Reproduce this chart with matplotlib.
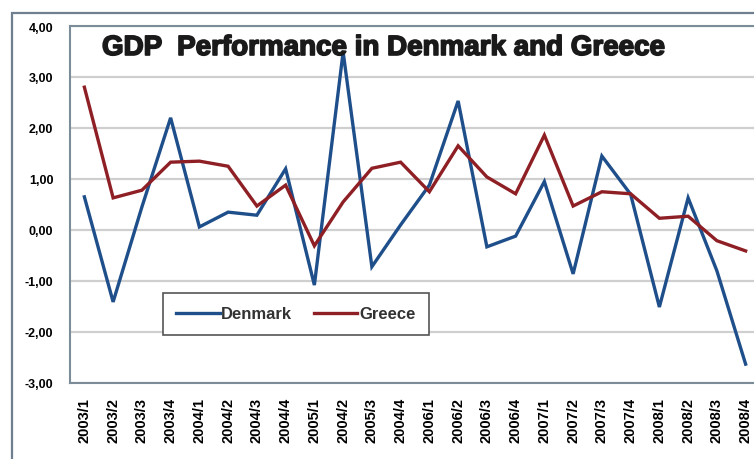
import matplotlib.pyplot as plt
import matplotlib.patheffects as pe
from matplotlib.patches import Rectangle
from matplotlib.ticker import FuncFormatter

# quarterly GDP change, %
quarters = ["2003/1", "2003/2", "2003/3", "2003/4", "2004/1", "2004/2", "2004/3", "2004/4",
            "2005/1", "2004/2", "2005/3", "2004/4", "2006/1", "2006/2", "2006/3", "2006/4",
            "2007/1", "2007/2", "2007/3", "2007/4", "2008/1", "2008/2", "2008/3", "2008/4"]
denmark = [0.65, -1.41, 0.45, 2.20, 0.06, 0.35, 0.29, 1.20,
           -1.08, 3.49, -0.72, 0.10, 0.88, 2.53, -0.33, -0.12,
           0.95, -0.86, 1.45, 0.70, -1.51, 0.63, -0.80, -2.63]
greece = [2.80, 0.63, 0.78, 1.33, 1.35, 1.25, 0.47, 0.88,
          -0.31, 0.55, 1.21, 1.33, 0.75, 1.65, 1.04, 0.71,
          1.86, 0.47, 0.75, 0.71, 0.23, 0.27, -0.21, -0.41]
yticks = [-3, -2, -1, 0, 1, 2, 3, 4]

W, H = 754, 460
plt.rcParams["font.family"] = ["Liberation Sans", "DejaVu Sans"]
fig = plt.figure(figsize=(W / 100, H / 100), dpi=100)

# outer chart frame
fig.patches.append(Rectangle((12 / W, -0.1), 1.2, 1 - 14 / H + 0.1, transform=fig.transFigure,
                             fill=False, edgecolor="#6f7f90", linewidth=1.6, zorder=0))

ax = fig.add_axes([70 / W, 1 - 384 / H, 690 / W, 357 / H])
x = range(len(quarters))
ax.plot(x, denmark, color="#1f4f8a", linewidth=2.4, label="Denmark", solid_joinstyle="miter")
ax.plot(x, greece, color="#8e1f24", linewidth=2.4, label="Greece", solid_joinstyle="miter")

ax.set_xlim(-0.5, len(quarters) - 0.5)
ax.set_ylim(-3, 4)
ax.set_yticks(yticks)
ax.yaxis.set_major_formatter(FuncFormatter(lambda v, p: f"{v:.2f}".replace(".", ",")))
ax.set_xticks(list(x))
ax.set_xticklabels(quarters, rotation=90, fontsize=10.5, fontweight="bold")
for t in ax.get_yticklabels():
    t.set_fontweight("bold")
    t.set_fontsize(9)
ax.tick_params(axis="y", length=0, pad=12)
ax.tick_params(axis="x", length=0, pad=10)
ax.grid(axis="y", color="#cfcfcf", linewidth=1.6)
ax.set_axisbelow(True)
for side in ["left", "top", "bottom"]:
    ax.spines[side].set_color("#7d8c99")
    ax.spines[side].set_linewidth(1.5)
ax.spines["right"].set_visible(False)

# heavy chart title inside the plot area
fig.text(102 / W, 1 - 49 / H, "GDP  Performance in Denmark and Greece", fontsize=20,
         family="Liberation Sans", weight="bold", color="#1a1a1a", va="center", ha="left",
         path_effects=[pe.withStroke(linewidth=1.2, foreground="#1a1a1a")])

leg = ax.legend(loc="upper left", bbox_to_anchor=(163 / W, 1 - 294 / H), bbox_transform=fig.transFigure,
                ncol=2, fancybox=False, framealpha=1, edgecolor="#555555", handlelength=2.6,
                handletextpad=0.1, columnspacing=1.3, borderaxespad=0, borderpad=0.8,
                prop={"weight": "bold", "size": 12})
leg.get_frame().set_linewidth(1.2)
for t in leg.get_texts():
    t.set_color("#333333")

fig.savefig("out.png", dpi=100)
